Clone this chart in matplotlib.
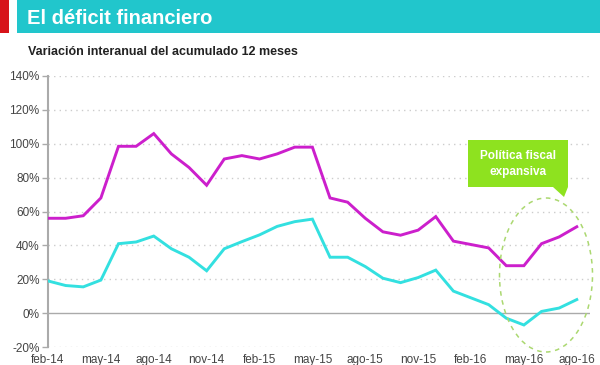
import numpy as np
import matplotlib.pyplot as plt
from matplotlib.patches import Rectangle, Ellipse, Polygon

plt.rcParams['font.family'] = ['Liberation Sans', 'DejaVu Sans']

# monthly points, feb-14 .. ago-16
tick_labels = ['feb-14', 'may-14', 'ago-14', 'nov-14', 'feb-15', 'may-15',
               'ago-15', 'nov-15', 'feb-16', 'may-16', 'ago-16']
serie_magenta = [56, 56, 57.5, 68, 98.5, 98.5, 106, 94, 86, 75.5, 91,
                 93, 91, 94, 98, 98, 68, 65.5, 56, 48, 46, 49,
                 57, 42.5, 40.5, 38.5, 28, 28, 41, 45, 51]
serie_cyan = [19, 16.3, 15.5, 19.5, 41, 42, 45.5, 38, 33, 25, 38,
              42.2, 46.2, 51.2, 54, 55.5, 33, 33, 27.5, 20.6, 18, 21,
              25.4, 13, 9, 5, -3, -7, 1, 3, 8]
y_ticks = [-20, 0, 20, 40, 60, 80, 100, 120, 140]

W, H = 600, 365
fig = plt.figure(figsize=(6, 3.65), dpi=100)

# header band
fig.patches.append(Rectangle((0, 1 - 33 / H), 9 / W, 33 / H, transform=fig.transFigure,
                             facecolor='#D7141A', edgecolor='none'))
fig.patches.append(Rectangle((17 / W, 1 - 33 / H), 1 - 17 / W, 33 / H, transform=fig.transFigure,
                             facecolor='#21C6CC', edgecolor='none'))
fig.text(27 / W, 1 - 19 / H, 'El déficit financiero', color='white', fontsize=14.5,
         fontweight='bold', va='center', ha='left')
fig.text(28 / W, 1 - 52 / H, 'Variación interanual del acumulado 12 meses', color='#222222',
         fontsize=9, fontweight='bold', va='center', ha='left')

ax = fig.add_axes([48 / W, 18 / H, 542 / W, 271 / H])
x = np.arange(len(serie_magenta))
ax.plot(x, serie_magenta, color='#CC1FCC', lw=2.1, solid_joinstyle='miter', zorder=3)
ax.plot(x, serie_cyan, color='#33E0E0', lw=2.1, solid_joinstyle='miter', zorder=3)

ax.set_xlim(0, 30.75)
ax.set_ylim(-20, 140)
ax.set_yticks(y_ticks)
ax.set_yticklabels([f'{v}%' for v in y_ticks])
for v in y_ticks:
    if v == 0:
        ax.axhline(v, color='#aaaaaa', lw=1.0, zorder=2)
    else:
        ax.axhline(v, color='#cccccc', lw=1.0, ls=(0, (1, 3)), zorder=1)

ax.set_xticks(x[::3])
ax.set_xticklabels(tick_labels)
ax.tick_params(axis='x', length=0, pad=5, labelsize=8.5, colors='#444444')
ax.tick_params(axis='y', length=4, width=1, color='#aaaaaa', pad=2, labelsize=8.5,
               labelcolor='#444444')
for s in ['top', 'right', 'bottom']:
    ax.spines[s].set_visible(False)
ax.spines['left'].set_color('#aaaaaa')
ax.spines['left'].set_linewidth(1.5)

# callout
ell = Ellipse((546 / W, 1 - 275 / H), 93 / W, 154 / H, transform=fig.transFigure,
              fill=False, edgecolor='#ABD870', lw=1.1, ls=(0, (3, 3)))
fig.patches.append(ell)
fig.patches.append(Rectangle((468 / W, 1 - 187 / H), 100 / W, 47 / H, transform=fig.transFigure,
                             facecolor='#8EE21F', edgecolor='none'))
fig.patches.append(Polygon([(553 / W, 1 - 187 / H), (568 / W, 1 - 187 / H), (564 / W, 1 - 197 / H)],
                           closed=True, transform=fig.transFigure,
                           facecolor='#8EE21F', edgecolor='none'))
fig.text(518 / W, 1 - 164 / H, 'Política fiscal\nexpansiva', color='white', fontsize=8.5,
         fontweight='bold', ha='center', va='center', linespacing=1.35)

fig.savefig('out.png', dpi=100)
